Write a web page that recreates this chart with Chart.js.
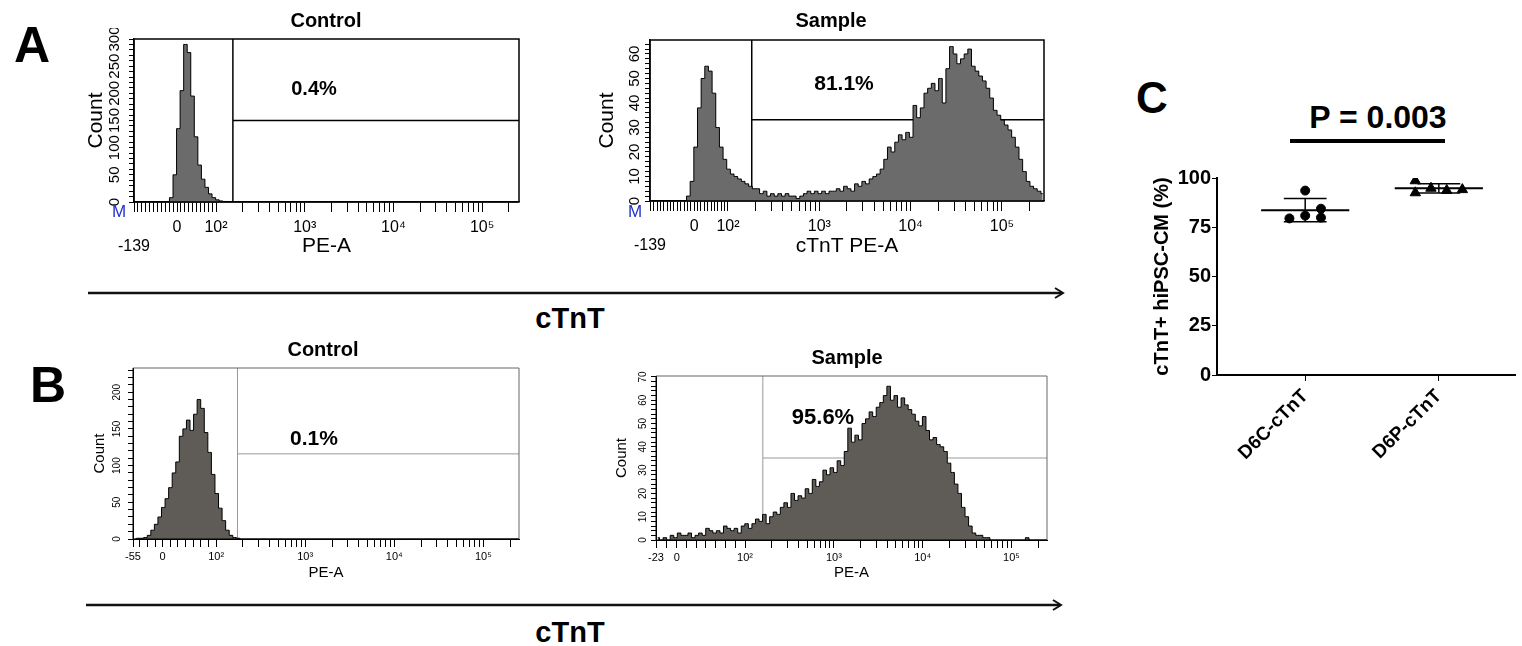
<!DOCTYPE html>
<html>
<head>
<meta charset="utf-8">
<script src="https://cdn.jsdelivr.net/npm/chart.js@4.4.1/dist/chart.umd.min.js"></script>
<style>
  body { margin: 0; background: #fff; }
  #fig { position: relative; width: 1522px; height: 646px; background: #fff; overflow: hidden; }
  .box { position: absolute; }
  .t { position: absolute; transform: translate(-50%, -50%); white-space: nowrap; line-height: 1;
       font-family: 'Liberation Sans', Arial, sans-serif; font-weight: bold; color: #000; }
</style>
</head>
<body>
<div id="fig">
  <svg style="position:absolute;left:0;top:0" width="1522" height="646">
    <line x1="88" y1="293" x2="1062" y2="293" stroke="#111" stroke-width="2.5"/>
    <polyline points="1055,288 1063,293 1055,298" fill="none" stroke="#111" stroke-width="2"/>
    <line x1="86" y1="605" x2="1060" y2="605" stroke="#111" stroke-width="2.5"/>
    <polyline points="1053,600 1061,605 1053,610" fill="none" stroke="#111" stroke-width="2"/>
    <rect x="1290" y="139" width="155" height="4" fill="#000"/>
  </svg>

  <div class="box" style="left:78px;top:28px"><canvas id="aCtl" width="456" height="236"></canvas></div>
  <div class="box" style="left:594px;top:29px"><canvas id="aSmp" width="460" height="235"></canvas></div>
  <div class="box" style="left:83px;top:358px"><canvas id="bCtl" width="446" height="233"></canvas></div>
  <div class="box" style="left:600px;top:366px"><canvas id="bSmp" width="457" height="225"></canvas></div>
  <div class="box" style="left:1130px;top:160px"><canvas id="cPlot" width="392" height="340"></canvas></div>

  <div class="t" style="left:32px;top:45px;font-size:50px">A</div>
  <div class="t" style="left:48px;top:385px;font-size:50px">B</div>
  <div class="t" style="left:1152px;top:98px;font-size:44px">C</div>

  <div class="t" style="left:326px;top:20px;font-size:20px">Control</div>
  <div class="t" style="left:831px;top:20px;font-size:20px">Sample</div>
  <div class="t" style="left:323px;top:349px;font-size:20px">Control</div>
  <div class="t" style="left:847px;top:357px;font-size:20px">Sample</div>

  <div class="t" style="left:314px;top:88px;font-size:20px">0.4%</div>
  <div class="t" style="left:844px;top:82px;font-size:21px">81.1%</div>
  <div class="t" style="left:314px;top:437px;font-size:21px">0.1%</div>
  <div class="t" style="left:823px;top:417px;font-size:22px">95.6%</div>

  <div class="t" style="left:570px;top:318px;font-size:29px">cTnT</div>
  <div class="t" style="left:570px;top:632px;font-size:29px">cTnT</div>

  <div class="t" style="left:119px;top:211px;font-size:17px;font-weight:normal;color:#2233cc">M</div>
  <div class="t" style="left:635px;top:211px;font-size:17px;font-weight:normal;color:#2233cc">M</div>

  <div class="t" style="left:1378px;top:117px;font-size:32px">P = 0.003</div>
</div>

<script>
Chart.defaults.font.family = "'Liberation Sans', Arial, sans-serif";
Chart.defaults.color = '#000';

// histogram counts per channel bin (bin width 0.04 display decades, from left edge of each axis)
var BIN = 0.04;
var controlA = [
  0,0,0,0,0,0,0,0,0,1,8,50,135,205,290,275,195,120,68,42,
  27,15,8,4,2,1,0,0,0,0,0,0,0,0,0,0,0,0,0,0,
  0,0,0,0,0,0,0,0,0,0,0,0,0,0,0,0,0,0,0,0,
  0,0,0,0,0,0,0,0,0,0,0,0,0,0,0,0,0,0,0,0,
  0,0,0,0,0,0,0,0,0,0,0,0,0,0,0,0,0,0,0,0,
  0,0,0,0,0,0,0,0,0
];
var sampleA = [
  0,0,0,0,0,0,0,0,0,0,
  2,8,22,38,50,55,53,44,30,22,
  17,13,11,10,9,8,7,6,5,5,
  3,4,2,3,2,3,2,3,2,2,
  1,2,3,4,3,4,3,4,3,4,
  4,5,4,6,5,4,7,6,8,7,
  9,10,11,13,17,22,20,24,27,25,
  28,26,39,34,38,44,46,48,45,50,
  40,54,63,60,56,58,60,62,55,53,
  51,49,46,42,37,35,33,31,29,26,
  22,17,12,8,6,5,4,3
];
var controlB = [
  0,1,1,2,5,12,20,30,43,55,
  70,90,105,140,150,162,148,170,190,178,
  145,118,88,62,42,25,12,5,2,1,
  0,0,0,0,0,0,0,0,0,0,0,0,0,0,0,0,0,0,0,0,
  0,0,0,0,0,0,0,0,0,0,0,0,0,0,0,0,0,0,0,0,
  0,0,0,0,0,0,0,0,0,0,0,0,0,0,0,0,0,0,0,0,
  0,0,0,0,0,0,0,0,0,0,0,0,0,0,0,0,0,0,0
];
var sampleB = [
  1,0,1,0,2,1,3,2,2,3,
  1,2,3,2,5,4,3,4,3,6,
  5,4,5,3,6,7,5,7,9,8,
  11,7,10,12,11,14,16,14,20,17,
  19,18,22,20,26,23,25,30,28,31,
  29,34,32,38,48,42,45,43,50,52,
  55,53,57,59,62,66,60,62,57,61,
  58,56,54,51,49,53,47,43,44,41,
  40,38,33,29,24,20,14,10,6,3,
  2,2,1,1,0,0,0,0,0,0,
  0,0,0,0,1,0,0,0,0,0,0
];

// panel C values (% cTnT+ cells)
var groups = ['D6C-cTnT', 'D6P-cTnT'];
var d6c = [93.6, 79.5, 80.9, 84.4, 79.9];
var d6p = [98.6, 92.5, 94.8, 93.7, 94.1];

var SUP = {2: '\u00b2', 3: '\u00b3', 4: '\u2074', 5: '\u2075'};

var frame = {
  id: 'frame',
  afterDatasetsDraw: function (c, args, o) {
    var a = c.chartArea, ctx = c.ctx;
    ctx.save();
    ctx.lineWidth = o.width;
    ctx.strokeStyle = o.far;
    ctx.beginPath();
    ctx.moveTo(a.left, a.top); ctx.lineTo(a.right, a.top); ctx.lineTo(a.right, a.bottom);
    ctx.stroke();
    ctx.strokeStyle = o.near;
    ctx.beginPath();
    ctx.moveTo(a.left, a.top); ctx.lineTo(a.left, a.bottom); ctx.lineTo(a.right, a.bottom);
    ctx.stroke();
    ctx.restore();
  }
};

function flowTicks(o) {
  var t = [{v: o.uMin, l: o.edge}];
  var step = (2 - o.uZero) / o.nLin;
  for (var v = o.uZero - step; v > o.uMin + 0.03; v -= step) t.push({v: v, l: ''});
  t.push({v: o.uZero, l: '0'});
  for (var k = 1; k < o.nLin; k++) t.push({v: o.uZero + k * step, l: ''});
  for (var d = 2; d <= 5; d++) {
    t.push({v: d, l: '10' + SUP[d]});
    for (var m = 2; m <= 9; m++) {
      var w = d + Math.log10(m);
      if (w < o.uMax) t.push({v: w, l: ''});
    }
  }
  return t.sort(function (a, b) { return a.v - b.v; });
}

function flowChart(id, o) {
  var xt = flowTicks(o);
  var yt = [];
  for (var v = 0; v <= o.yMax; v += o.yStep) yt.push(v);
  var hist = o.counts.map(function (c, i) { return {x: o.uMin + (i + 0.5) * BIN, y: c}; });
  new Chart(id, {
    type: 'line',
    data: {
      datasets: [
        {data: hist, stepped: 'middle', fill: 'origin', backgroundColor: o.fill,
         borderColor: '#000', borderWidth: 1, pointRadius: 0},
        {data: [{x: o.gate, y: 0}, {x: o.gate, y: o.yMax}], borderColor: o.gateColor,
         borderWidth: o.gateWidth, pointRadius: 0, fill: false},
        {data: [{x: o.gate, y: o.gateY}, {x: o.uMax, y: o.gateY}], borderColor: o.gateColor,
         borderWidth: o.gateWidth, pointRadius: 0, fill: false}
      ]
    },
    options: {
      responsive: false,
      animation: false,
      layout: {padding: o.pad},
      plugins: {
        legend: {display: false},
        tooltip: {enabled: false},
        frame: {width: o.frameWidth, near: '#000', far: o.frameColor}
      },
      scales: {
        x: {
          type: 'linear', min: o.uMin, max: o.uMax,
          afterBuildTicks: function (s) { s.ticks = xt.map(function (t) { return {value: t.v}; }); },
          afterFit: function (s) { s.height = o.xH; },
          ticks: {autoSkip: false, maxRotation: 0, padding: o.xPad, font: {size: o.xFont},
                  callback: function (v, i) { return xt[i].l; }},
          grid: {drawOnChartArea: false, tickLength: o.xTick, color: '#000'},
          border: {color: '#000', width: o.frameWidth},
          title: {display: true, text: o.xTitle, font: {size: o.titleFont}, padding: 0}
        },
        y: {
          min: 0, max: o.yMax,
          afterBuildTicks: function (s) { s.ticks = yt.map(function (v) { return {value: v}; }); },
          afterFit: function (s) { s.width = o.yW; },
          ticks: {autoSkip: false, minRotation: 90, maxRotation: 90, crossAlign: 'center', padding: 2,
                  font: {size: o.yFont},
                  callback: function (v) { return v % o.yMajor === 0 ? v : ''; }},
          grid: {drawOnChartArea: false, tickLength: 5, color: '#000'},
          border: {color: '#000', width: o.frameWidth},
          title: {display: true, text: 'Count', font: {size: o.titleFont}, padding: {top: o.yTitlePad, bottom: 0}}
        }
      }
    },
    plugins: [frame]
  });
}

flowChart('aCtl', {
  counts: controlA, uMin: 1.075, uMax: 5.416, uZero: 1.56, nLin: 10, edge: ['', '-139'],
  yMax: 300, yStep: 10, yMajor: 50, gate: 2.19, gateY: 150,
  fill: '#6b6b6b', gateColor: '#000', gateWidth: 1.5, frameColor: '#000', frameWidth: 1.5,
  pad: {left: 0, top: 10, right: 15, bottom: 5}, yW: 56, xH: 57,
  xTick: 10, xPad: 6, xFont: 16, yFont: 15, titleFont: 21, yTitlePad: 6, xTitle: 'PE-A'
});
flowChart('aSmp', {
  counts: sampleA, uMin: 1.146, uMax: 5.46, uZero: 1.63, nLin: 10, edge: ['', '-139'],
  yMax: 65.7, yStep: 2, yMajor: 10, gate: 2.26, gateY: 33.2,
  fill: '#6b6b6b', gateColor: '#000', gateWidth: 1.5, frameColor: '#000', frameWidth: 1.5,
  pad: {left: 0, top: 10, right: 10, bottom: 5}, yW: 56, xH: 58,
  xTick: 10, xPad: 6, xFont: 16, yFont: 15, titleFont: 21, yTitlePad: 1, xTitle: 'cTnT PE-A'
});
flowChart('bCtl', {
  counts: controlB, uMin: 1.067, uMax: 5.40, uZero: 1.40, nLin: 7, edge: '-55',
  yMax: 233, yStep: 10, yMajor: 50, gate: 2.24, gateY: 116,
  fill: '#5f5c57', gateColor: '#999', gateWidth: 1, frameColor: '#666', frameWidth: 1,
  pad: {left: 0, top: 10, right: 10, bottom: 9}, yW: 50, xH: 43,
  xTick: 8, xPad: 3, xFont: 11, yFont: 10, titleFont: 15, yTitlePad: 8, xTitle: 'PE-A'
});
flowChart('bSmp', {
  counts: sampleB, uMin: 0.997, uMax: 5.40, uZero: 1.23, nLin: 7, edge: '-23',
  yMax: 70.4, yStep: 2, yMajor: 10, gate: 2.20, gateY: 35.2,
  fill: '#5f5c57', gateColor: '#999', gateWidth: 1, frameColor: '#666', frameWidth: 1,
  pad: {left: 0, top: 10, right: 10, bottom: 9}, yW: 56, xH: 42,
  xTick: 8, xPad: 3, xFont: 11, yFont: 10, titleFont: 15, yTitlePad: 13, xTitle: 'PE-A'
});

// panel C: mean +/- SD with individual points
function summary(vals, c) {
  var m = vals.reduce(function (a, b) { return a + b; }, 0) / vals.length;
  var sd = Math.sqrt(vals.reduce(function (a, v) { return a + (v - m) * (v - m); }, 0) / (vals.length - 1));
  function seg(pts, w) {
    return {type: 'line', data: pts, borderColor: '#000', borderWidth: w, pointRadius: 0, fill: false};
  }
  return [
    seg([{x: c - 0.33, y: m}, {x: c + 0.33, y: m}], 2),
    seg([{x: c - 0.16, y: m + sd}, {x: c + 0.16, y: m + sd}], 1.5),
    seg([{x: c - 0.16, y: m - sd}, {x: c + 0.16, y: m - sd}], 1.5),
    seg([{x: c, y: m - sd}, {x: c, y: m + sd}], 1.5)
  ];
}
var spreadC = [0, -0.118, 0, 0.118, 0.118];
var spreadP = [-0.176, -0.176, -0.059, 0.059, 0.176];

new Chart('cPlot', {
  type: 'scatter',
  data: {
    datasets: summary(d6c, 1).concat(summary(d6p, 2)).concat([
      {data: d6c.map(function (y, i) { return {x: 1 + spreadC[i], y: y}; }),
       pointStyle: 'circle', pointRadius: 4.5, backgroundColor: '#000', borderColor: '#000'},
      {data: d6p.map(function (y, i) { return {x: 2 + spreadP[i], y: y}; }),
       pointStyle: 'triangle', pointRadius: 6, backgroundColor: '#000', borderColor: '#000'}
    ])
  },
  options: {
    responsive: false,
    animation: false,
    layout: {padding: {left: 0, top: 18, right: 2, bottom: 5}},
    plugins: {legend: {display: false}, tooltip: {enabled: false}},
    scales: {
      x: {
        type: 'linear', min: 0.34, max: 2.57,
        afterBuildTicks: function (s) { s.ticks = [{value: 1}, {value: 2}]; },
        afterFit: function (s) { s.height = 120; },
        ticks: {autoSkip: false, minRotation: 45, maxRotation: 45, padding: 4,
                font: {size: 19, weight: 'bold'},
                callback: function (v) { return groups[v - 1]; }},
        grid: {drawOnChartArea: false, tickLength: 6, color: '#000'},
        border: {color: '#000', width: 2}
      },
      y: {
        min: 0, max: 100,
        afterBuildTicks: function (s) { s.ticks = [0, 25, 50, 75, 100].map(function (v) { return {value: v}; }); },
        afterFit: function (s) { s.width = 87; },
        ticks: {padding: 1, font: {size: 20, weight: 'bold'}},
        grid: {drawOnChartArea: false, tickLength: 5, color: '#000'},
        border: {color: '#000', width: 2},
        title: {display: true, text: 'cTnT+ hiPSC-CM (%)', font: {size: 20, weight: 'bold'},
                padding: {top: 20, bottom: 0}}
      }
    }
  }
});
</script>
</body>
</html>
